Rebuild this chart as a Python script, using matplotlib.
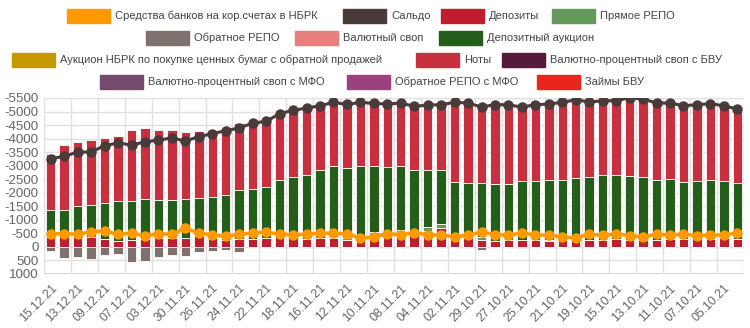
import matplotlib
matplotlib.use('Agg')
import matplotlib.pyplot as plt
from matplotlib.patches import Rectangle
from matplotlib import font_manager
import numpy as np

plt.rcParams['font.family'] = ['Liberation Sans', 'DejaVu Sans']

# узкий шрифт для легенды, если он есть
names = {f.name for f in font_manager.fontManager.ttflist}
if 'Liberation Sans Narrow' in names:
    leg_font, leg_size = ['Liberation Sans Narrow', 'DejaVu Sans'], 9.6
else:
    leg_font, leg_size = ['Liberation Sans', 'DejaVu Sans'], 8.0

# даты (ось идёт от новых к старым)
dates = ['15.12.21', '14.12.21', '13.12.21', '10.12.21', '09.12.21', '08.12.21', '07.12.21',
         '06.12.21', '03.12.21', '02.12.21', '30.11.21', '29.11.21', '26.11.21', '25.11.21',
         '24.11.21', '23.11.21', '22.11.21', '19.11.21', '18.11.21', '17.11.21', '16.11.21',
         '15.11.21', '12.11.21', '11.11.21', '10.11.21', '09.11.21', '08.11.21', '05.11.21',
         '04.11.21', '03.11.21', '02.11.21', '01.11.21', '29.10.21', '28.10.21', '27.10.21',
         '26.10.21', '25.10.21', '22.10.21', '21.10.21', '20.10.21', '19.10.21', '18.10.21',
         '15.10.21', '14.10.21', '13.10.21', '12.10.21', '11.10.21', '08.10.21', '07.10.21',
         '06.10.21', '05.10.21', '04.10.21']

# млрд тенге, изъятие ликвидности со знаком минус
depozity = [-368, -392, -368, -368, -294, -220, -245, -294, -331, -319, -343, -392, -331, -269,
            -294, -294, -343, -400, -392, -294, -331, -331, -269, -340, -331, -355, -553, -429,
            -601, -700, -355, -331, -270, -208, -245, -245, -245, -220, -269, -245, -245, -269,
            -294, -245, -269, -245, -294, -294, -331, -294, -343, -294]
pryamoe_repo = [0, 0, 0, 0, 0, 0, 0, 0, 0, 0, 0, 0, 0, 0, 0, 0, 0, 0, 0, 0, 0, -30, -50, 0,
                -220, -30, -90, -30, -120, -150, -30, 0, -90, 0, 0, 0, 0, -20, 0, 0, 0, 0,
                0, 0, 0, 0, 0, 0, 0, 0, 0, 0]
dep_aukcion = [-985, -986, -1132, -1182, -1317, -1465, -1465, -1489, -1391, -1415, -1428, -1404,
               -1514, -1650, -1809, -1846, -1871, -2060, -2191, -2375, -2498, -2616, -2584,
               -2649, -2426, -2555, -2334, -2395, -2133, -1991, -2001, -2018, -1989, -2112,
               -2080, -2190, -2190, -2245, -2216, -2313, -2350, -2388, -2363, -2375, -2314,
               -2240, -2215, -2117, -2117, -2191, -2105, -2055]
noty = [-2069, -2375, -2364, -2400, -2413, -2413, -2609, -2597, -2596, -2597, -2486, -2473,
        -2474, -2474, -2474, -2445, -2423, -2460, -2460, -2460, -2386, -2361, -2361, -2349,
        -2364, -2337, -2337, -2337, -2386, -2411, -2952, -2965, -2942, -2938, -2921, -2781,
        -2817, -2792, -2853, -2879, -2756, -2743, -2743, -2890, -2878, -2829, -2805, -2804,
        -2804, -2804, -2767, -2743]
obratnoe_repo = [162, 408, 359, 445, 284, 260, 555, 505, 370, 309, 346, 198, 137, 100, 186, 15,
                 0, 0, 0, 0, 0, 0, 0, 0, 40, 0, 0, 0, 0, 0, 0, 0, 125, 0, 0, 50, 0, 0, 0, 0,
                 0, 0, 0, 0, 0, 0, 0, 0, 0, 0, 0, 0]
saldo = [-3260, -3345, -3505, -3505, -3740, -3838, -3764, -3875, -3948, -4022, -3911, -4071,
         -4182, -4293, -4391, -4570, -4637, -4920, -5043, -5129, -5215, -5338, -5264, -5338,
         -5301, -5277, -5314, -5191, -5240, -5252, -5338, -5314, -5166, -5258, -5246, -5166,
         -5252, -5277, -5338, -5437, -5351, -5400, -5400, -5510, -5461, -5314, -5314, -5215,
         -5252, -5289, -5215, -5092]
korschet = [-478, -490, -466, -565, -589, -466, -503, -417, -490, -466, -687, -515, -441, -392,
            -466, -515, -552, -466, -454, -466, -515, -503, -490, -319, -368, -490, -454, -515,
            -454, -429, -380, -429, -552, -454, -430, -517, -443, -430, -369, -332, -467, -430,
            -480, -418, -369, -467, -443, -467, -418, -430, -443, -517]

# легенда: подпись, цвет
legend_rows = [
    [('Средства банков на кор.счетах в НБРК', '#FF9900'), ('Сальдо', '#4A3A3A'),
     ('Депозиты', '#BE1E2D'), ('Прямое РЕПО', '#63995A')],
    [('Обратное РЕПО', '#7F726E'), ('Валютный своп', '#E87F7F'),
     ('Депозитный аукцион', '#255E1B')],
    [('Аукцион НБРК по покупке ценных бумаг с обратной продажей', '#C49A00'),
     ('Ноты', '#C8303F'), ('Валютно-процентный своп с БВУ', '#541B3B')],
    [('Валютно-процентный своп с МФО', '#744A6D'), ('Обратное РЕПО с МФО', '#9B417D'),
     ('Займы БВУ', '#E8261E')],
]
legend_x = [[67, 343, 441, 552], [146, 295, 439], [12, 416, 502], [100, 347, 537]]
legend_y = [16, 38, 60, 82]

W, H = 750, 328
fig = plt.figure(figsize=(W / 100, H / 100), dpi=100)
ax = fig.add_axes([44 / W, (H - 274) / H, 700 / W, 176 / H])

x = np.arange(len(dates))
bw = 0.7
ec = dict(edgecolor='white', linewidth=0.6)

dep = np.array(depozity)
rp = np.array(pryamoe_repo)
auk = np.array(dep_aukcion)
nt = np.array(noty)

ax.bar(x, dep, bw, color='#BE1E2D', zorder=2, **ec)
ax.bar(x, rp, bw, bottom=dep, color='#63995A', zorder=2, **ec)
ax.bar(x, auk, bw, bottom=dep + rp, color='#255E1B', zorder=2, **ec)
ax.bar(x, nt, bw, bottom=dep + rp + auk, color='#C8303F', zorder=2, **ec)
ax.bar(x, obratnoe_repo, bw, color='#7F726E', zorder=2, **ec)

ax.plot(x, korschet, color='#FF9900', lw=2.5, marker='o', ms=6.5, zorder=4)
ax.plot(x, saldo, color='#4A3A3A', lw=2.2, marker='o', ms=6.5, zorder=5)

ax.set_xlim(-0.5, len(dates) - 0.5)
ax.set_ylim(1000, -5500)
ax.set_yticks(np.arange(-5500, 1001, 500))
ax.set_yticklabels([str(v) for v in range(-5500, 1001, 500)], fontsize=9.6, color='#666666')
ax.set_xticks(x[::2])
ax.set_xticklabels(dates[::2], rotation=45, ha='right', rotation_mode='anchor',
                   fontsize=8.8, color='#666666')
ax.set_xticks(np.arange(-0.5, len(dates), 2), minor=True)
ax.tick_params(axis='both', which='both', length=0)
ax.tick_params(axis='y', pad=4)
ax.tick_params(axis='x', pad=6)
ax.grid(axis='y', which='major', color='#e0e0e0', lw=1, zorder=0)
ax.grid(axis='x', which='minor', color='#e0e0e0', lw=1, zorder=0)
for s in ax.spines.values():
    s.set_visible(False)
ax.axhline(1000, color='#cccccc', lw=1.2, zorder=1)

for row, xs, yc in zip(legend_rows, legend_x, legend_y):
    for (label, col), xl in zip(row, xs):
        fig.patches.append(Rectangle((xl / W, (H - yc - 7) / H), 43 / W, 14 / H,
                                     transform=fig.transFigure, color=col))
        fig.text((xl + 48) / W, (H - yc) / H, label, ha='left', va='center',
                 fontsize=leg_size, color='#444444', family=leg_font)

fig.savefig('out.png', dpi=100)
